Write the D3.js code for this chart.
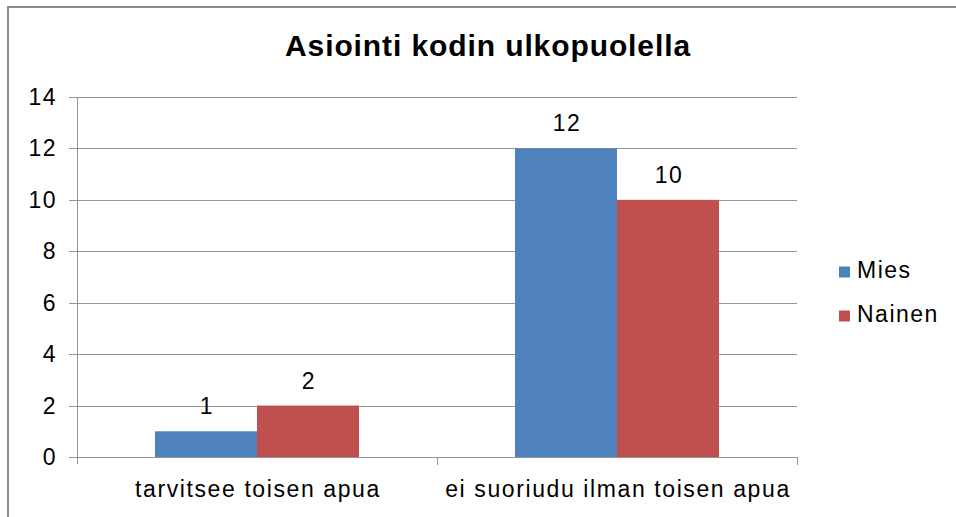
<!DOCTYPE html>
<html>
<head>
<meta charset="utf-8">
<script src="https://cdn.jsdelivr.net/npm/d3@7"></script>
<style>
  body { margin: 0; background: #fff; }
  text { font-family: "Liberation Sans", Arial, sans-serif; fill: #000; }
</style>
</head>
<body>
<svg id="chart" width="956" height="517"></svg>
<script>
// chart data
const categories = ["tarvitsee toisen apua", "ei suoriudu ilman toisen apua"];
const seriesNames = ["Mies", "Nainen"];
const mies = [1, 12];
const nainen = [2, 10];
const yTicks = [0, 2, 4, 6, 8, 10, 12, 14];
const colors = ["#4F81BD", "#C0504D"];

const svg = d3.select("#chart");

// outer frame (only the top/left edges show in the original)
svg.append("path")
    .attr("d", "M8,520 L8,7 L960,7")
    .attr("fill", "none")
    .attr("stroke", "#8c8c8c")
    .attr("stroke-width", 2);

const plotL = 77, plotR = 797, plotT = 97, plotB = 457;
const fs = 23, ls = 1.5;

let x = d3.scaleBand().domain(categories).range([plotL, plotR]);
// the two bars take 204px in the middle of each 360px band
let xs = d3.scaleBand().domain(seriesNames).range([78, 282]);
let y = d3.scaleLinear().domain([0, 14]).range([plotB, plotT]);

// grid lines
svg.append("g").selectAll("line").data(yTicks).join("line")
    .attr("x1", plotL - 8).attr("x2", plotR)
    .attr("y1", d => Math.round(y(d)) + 0.5).attr("y2", d => Math.round(y(d)) + 0.5)
    .attr("stroke", "#969696").attr("stroke-width", 1);

// y axis line
svg.append("line")
    .attr("x1", plotL + 0.5).attr("x2", plotL + 0.5)
    .attr("y1", plotT).attr("y2", plotB + 7)
    .attr("stroke", "#969696");

// category tick marks
svg.append("g").selectAll("line").data(categories).join("line")
    .attr("x1", d => Math.round(x(d) + x.bandwidth()) + 0.5)
    .attr("x2", d => Math.round(x(d) + x.bandwidth()) + 0.5)
    .attr("y1", plotB).attr("y2", plotB + 8)
    .attr("stroke", "#969696");

// y tick labels
svg.append("g").selectAll("text").data(yTicks).join("text")
    .attr("x", 57).attr("y", d => y(d) + 8)
    .attr("text-anchor", "end")
    .attr("font-size", fs).attr("letter-spacing", ls)
    .text(d => d);

// x labels
svg.append("g").selectAll("text").data(categories).join("text")
    .attr("x", d => x(d) + x.bandwidth() / 2 + 1).attr("y", 497)
    .attr("text-anchor", "middle")
    .attr("font-size", fs).attr("letter-spacing", 1.6)
    .text(d => d);

// bars
const series = [mies, nainen];
series.forEach((vals, si) => {
    let g = svg.append("g");
    g.selectAll("rect").data(vals).join("rect")
        .attr("x", (d, i) => x(categories[i]) + xs(seriesNames[si]))
        .attr("width", xs.bandwidth())
        .attr("y", d => y(d))
        .attr("height", d => plotB - y(d))
        .attr("fill", colors[si]);
    g.selectAll("text").data(vals).join("text")
        .attr("x", (d, i) => x(categories[i]) + xs(seriesNames[si]) + xs.bandwidth() / 2 + 1)
        .attr("y", d => y(d) - 17)
        .attr("text-anchor", "middle")
        .attr("font-size", fs).attr("letter-spacing", ls)
        .text(d => d);
});

// title
svg.append("text")
    .attr("x", 488).attr("y", 56)
    .attr("text-anchor", "middle")
    .attr("font-size", 30)
    .attr("font-weight", "bold")
    .attr("letter-spacing", 0.9)
    .text("Asiointi kodin ulkopuolella");

// legend
let legend = svg.append("g").selectAll("g").data(seriesNames).join("g")
    .attr("transform", (d, i) => `translate(839, ${266.5 + i * 44})`);
legend.append("rect").attr("width", 11).attr("height", 11)
    .attr("fill", (d, i) => colors[i]);
legend.append("text").attr("x", 18).attr("y", 11.5)
    .attr("font-size", fs).attr("letter-spacing", ls)
    .text(d => d);
</script>
</body>
</html>
